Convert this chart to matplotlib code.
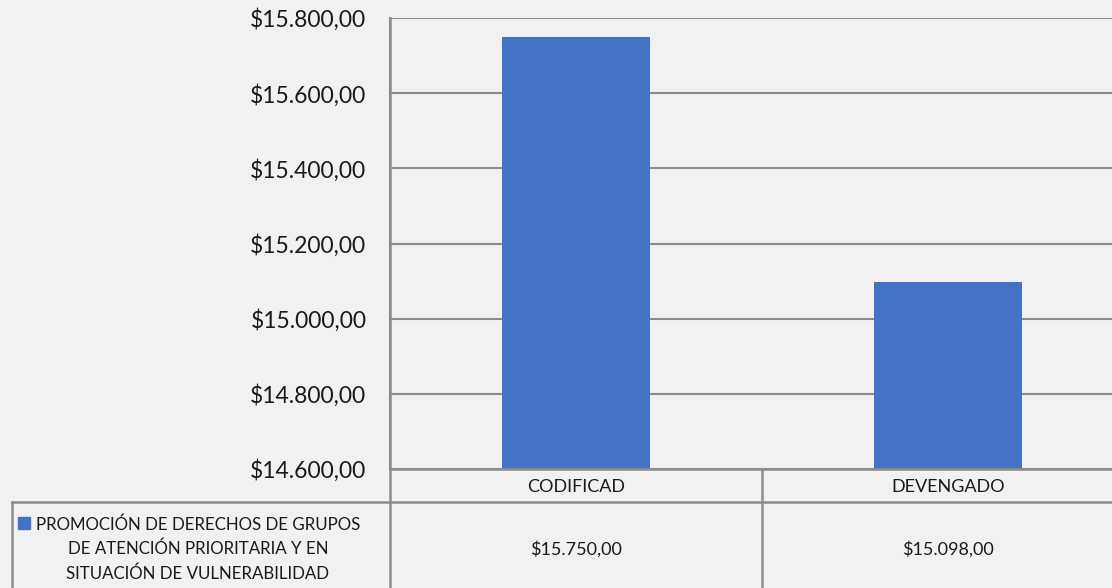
import numpy as np
import matplotlib.pyplot as plt
from matplotlib.lines import Line2D
from matplotlib.patches import Rectangle

# data
categories = ['CODIFICAD', 'DEVENGADO']
values = [15750.00, 15098.00]
series_name = 'PROMOCIÓN DE DERECHOS DE GRUPOS\nDE ATENCIÓN PRIORITARIA Y EN\nSITUACIÓN DE VULNERABILIDAD'
yticks = [14600, 14800, 15000, 15200, 15400, 15600, 15800]

BAR_COLOR = '#4472C4'
LINE_COLOR = '#8c8c8c'
BG = '#f1f1f1'
plt.rcParams['font.family'] = ['Lato', 'DejaVu Sans']


def money(v):
    # 15750 -> $15.750,00
    s = '{:,.2f}'.format(v)
    s = s.replace(',', 'X').replace('.', ',').replace('X', '.')
    return '$' + s


W, H = 1112, 588
fig = plt.figure(figsize=(W / 100, H / 100), dpi=100, facecolor=BG)

# plot area (right side runs past the figure edge, like the source)
px_left, px_right, px_top, px_bottom = 390, 1134, 18, 469
ax = fig.add_axes([px_left / W, 1 - px_bottom / H,
                   (px_right - px_left) / W, (px_bottom - px_top) / H])
ax.set_facecolor('none')

x = np.arange(len(categories))
ax.bar(x, values, width=0.4, color=BAR_COLOR, zorder=3)
ax.set_xlim(-0.5, len(categories) - 0.5)
ax.set_ylim(yticks[0], yticks[-1])
ax.set_yticks(yticks)
ax.set_yticklabels([money(t) for t in yticks], fontsize=16.5, color='#1a1a1a')
ax.tick_params(axis='y', length=0, pad=17)
ax.set_xticks([])
ax.yaxis.grid(True, color=LINE_COLOR, linewidth=1.5, zorder=0)
for side in ['top', 'right', 'bottom']:
    ax.spines[side].set_visible(False)
ax.spines['left'].set_color(LINE_COLOR)
ax.spines['left'].set_linewidth(1.5)


# data table below the plot, in figure pixel units
def fx(px):
    return px / W


def fy(py):
    return 1 - py / H


row1_bottom = 502
table_bottom = 590
lw = 1.8
lines = [
    ((px_left, px_left), (px_top, table_bottom)),
    ((12, 12), (row1_bottom, table_bottom)),
    ((12, W + 5), (row1_bottom, row1_bottom)),
    ((px_left, W + 5), (px_bottom, px_bottom)),
]
for xs, ys in lines:
    fig.add_artist(Line2D([fx(v) for v in xs], [fy(v) for v in ys],
                          color=LINE_COLOR, linewidth=lw))

# category separators
cat_w = (px_right - px_left) / len(categories)
for i in range(1, len(categories)):
    xp = px_left + i * cat_w
    fig.add_artist(Line2D([fx(xp), fx(xp)], [fy(px_bottom), fy(table_bottom)],
                          color=LINE_COLOR, linewidth=lw))

for i, (cat, val) in enumerate(zip(categories, values)):
    xc = px_left + (i + 0.5) * cat_w
    fig.text(fx(xc), fy((px_bottom + row1_bottom) / 2 + 1), cat,
             ha='center', va='center', fontsize=13, color='#1a1a1a')
    fig.text(fx(xc), fy(549), money(val),
             ha='center', va='center', fontsize=13, color='#1a1a1a')

# legend key in the table
fig.add_artist(Rectangle((fx(18), fy(529)), fx(12), 12 / H,
                         color=BAR_COLOR, transform=fig.transFigure))
fig.text(fx(198), fy(549), series_name, ha='center', va='center',
         fontsize=12.2, color='#1a1a1a', linespacing=1.6,
         multialignment='center')

fig.savefig('out.png', dpi=100, facecolor=BG)
